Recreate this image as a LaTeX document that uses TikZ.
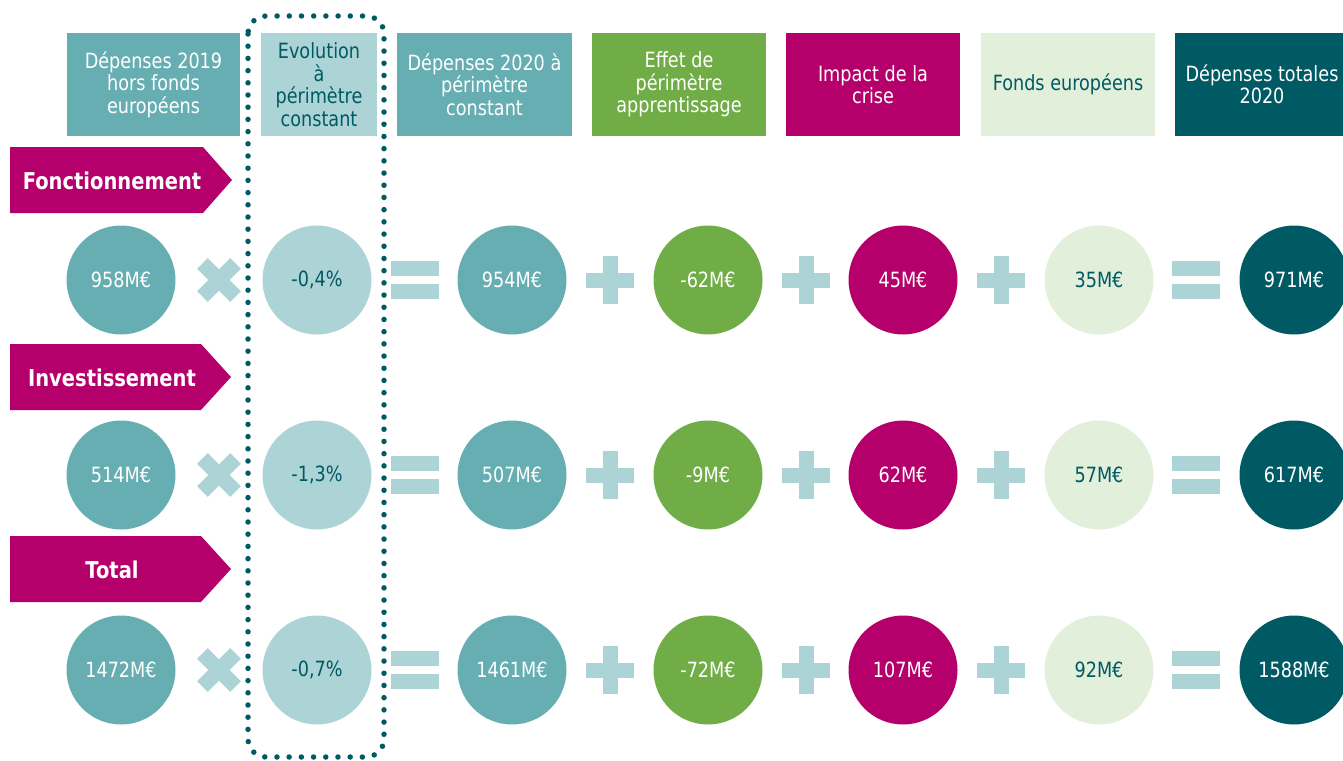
\documentclass[tikz,border=0pt]{standalone}
\usepackage{fontspec}
\setmainfont{DejaVu Sans}[FakeStretch=0.84]
\definecolor{tealmd}{HTML}{67AEB3}
\definecolor{teallt}{HTML}{ACD3D6}
\definecolor{tealdk}{HTML}{005A64}
\definecolor{grn}{HTML}{70AD47}
\definecolor{mag}{HTML}{B5006B}
\definecolor{grnlt}{HTML}{E2EFDA}
\begin{document}
\begin{tikzpicture}[x=1pt,y=-1pt,
  hdr/.style={rectangle, minimum height=103pt, inner sep=0pt, align=center,
    font=\fontsize{21}{22.5}\selectfont},
  circ/.style={circle, minimum size=109pt, inner sep=0pt, font=\fontsize{21}{22}\selectfont},
  lbltext/.style={text=white, font=\fontsize{23.2}{24}\selectfont\bfseries, inner sep=0pt},
  lblshape/.style={fill=mag},
  opc/.style={fill=teallt},
  timesop/.pic={\fill[opc, rotate=45] (-23.5,-7.5) rectangle (23.5,7.5);
                \fill[opc, rotate=-45] (-23.5,-7.5) rectangle (23.5,7.5);},
  plusop/.pic={\fill[opc] (-24,-7.5) rectangle (24,7.5);
               \fill[opc] (-7.5,-24) rectangle (7.5,24);},
  eqop/.pic={\fill[opc] (-24,-19.3) rectangle (24,-4);
             \fill[opc] (-24,4) rectangle (24,19.3);},
  dotframe/.style={draw=tealdk, line width=5.5pt, line cap=round, dash pattern=on 0pt off 12.2pt, rounded corners=18pt}
]
\useasboundingbox (0,0) rectangle (1343,760);
\clip (0,0) rectangle (1343,760);

% headers
\node[hdr, minimum width=173pt, fill=tealmd, text=white] (h1) at (153.5,84.5) {Dépenses 2019\\hors fonds\\européens};
\node[hdr, minimum width=116pt, fill=teallt, text=tealdk] (h2) at (319,84.5) {Evolution\\à\\périmètre\\constant};
\node[hdr, minimum width=175pt, fill=tealmd, text=white] (h3) at (484.5,84.5) {Dépenses 2020 à\\périmètre\\constant};
\node[hdr, minimum width=174pt, fill=grn, text=white] (h4) at (679,84.5) {Effet de\\périmètre\\apprentissage};
\node[hdr, minimum width=174pt, fill=mag, text=white] (h5) at (873,84.5) {Impact de la\\crise};
\node[hdr, minimum width=174pt, fill=grnlt, text=tealdk] (h6) at (1068,84.5) {Fonds européens};
\node[hdr, minimum width=174pt, fill=tealdk, text=white] (h7) at (1262,84.5) {Dépenses totales\\2020};

% row labels
\fill[lblshape] (10,147) -- (203,147) -- (232,180) -- (203,213) -- (10,213) -- cycle;
\node[lbltext] (l1) at (112,181) {Fonctionnement};
\fill[lblshape] (10,344) -- (201,344) -- (231,377) -- (201,410) -- (10,410) -- cycle;
\node[lbltext] (l2) at (112,378) {Investissement};
\fill[lblshape] (10,536) -- (201,536) -- (231,569) -- (201,602) -- (10,602) -- cycle;
\node[lbltext] (l3) at (112,570) {Total};

% dotted frame
\draw[dotframe] (248,16) rectangle (384,757);

% rows
\foreach \y/\a/\b/\c/\d/\e/\f/\g/\r in {
  280/958M€/{-0,4\%}/954M€/-62M€/45M€/35M€/971M€/1,
  475/514M€/{-1,3\%}/507M€/-9M€/62M€/57M€/617M€/2,
  670/1472M€/{-0,7\%}/1461M€/-72M€/107M€/92M€/1588M€/3}{
  \node[circ, fill=tealmd, text=white] (c1\r) at (121,\y) {\a};
  \node[circ, fill=teallt, text=tealdk] (c2\r) at (317,\y) {\b};
  \node[circ, fill=tealmd, text=white] (c3\r) at (512,\y) {\c};
  \node[circ, fill=grn, text=white] (c4\r) at (708,\y) {\d};
  \node[circ, fill=mag, text=white] (c5\r) at (903,\y) {\e};
  \node[circ, fill=grnlt, text=tealdk] (c6\r) at (1099,\y) {\f};
  \node[circ, fill=tealdk, text=white] (c7\r) at (1294,\y) {\g};
  \pic at (219,\y) {timesop};
  \pic at (414.5,\y) {eqop};
  \pic at (610,\y) {plusop};
  \pic at (806,\y) {plusop};
  \pic at (1001,\y) {plusop};
  \pic at (1196,\y) {eqop};
}
\end{tikzpicture}
\end{document}
